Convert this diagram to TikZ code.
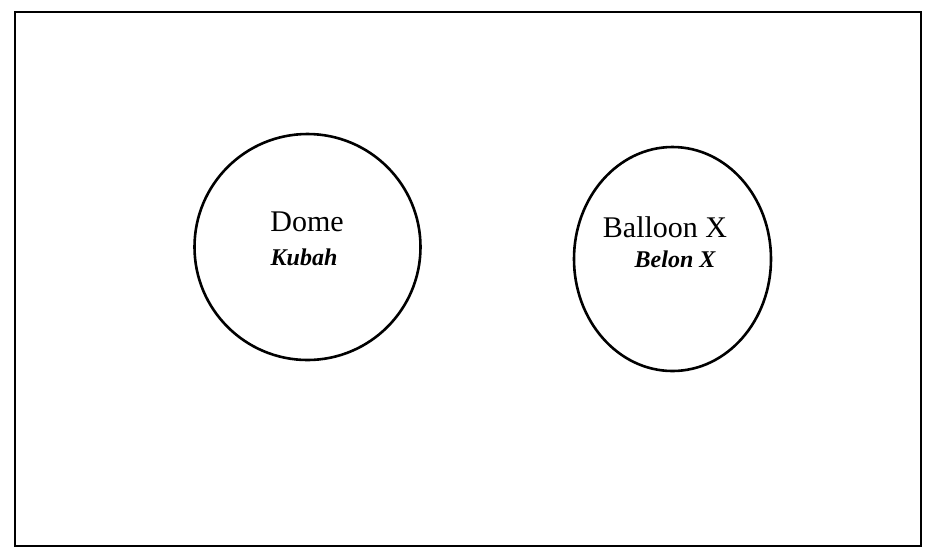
\documentclass[tikz,border=0pt]{standalone}
\usepackage{fontspec}
\setmainfont{Liberation Serif}
\usetikzlibrary{shapes.geometric}

\begin{document}
\begin{tikzpicture}[
  x=0.5pt, y=-0.5pt,
  frame/.style={draw=black, line width=1.1pt},
  shapebox/.style={draw=black, line width=1.3pt, inner sep=0pt},
  maintext/.style={font=\fontsize{15}{18}\selectfont, inner sep=0pt},
  subtext/.style={font=\fontsize{12}{14}\selectfont\bfseries\itshape, inner sep=0pt}
]
\useasboundingbox (0,0) rectangle (926,548);

% Frame
\draw[frame] (15,12) rectangle (921,546);

% Shapes
\node[shapebox, circle, minimum size=113pt] (dome) at (307.5,247) {};
\node[shapebox, ellipse, minimum width=98.5pt, minimum height=112pt] (balloon) at (672.5,259) {};

% Labels
\node[maintext] (domeen) at (307,222) {Dome};
\node[subtext] (domems) at (304,257) {Kubah};
\node[maintext] (balloonen) at (665,227) {Balloon X};
\node[subtext] (balloonms) at (675,259) {Belon X};

\end{tikzpicture}
\end{document}
